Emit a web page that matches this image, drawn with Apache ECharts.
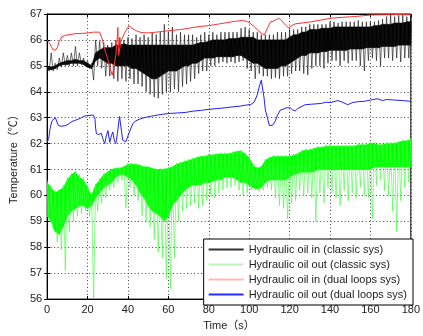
<!DOCTYPE html>
<html><head><meta charset="utf-8">
<script src="https://cdn.jsdelivr.net/npm/echarts@6/dist/echarts.min.js"></script>
<style>html,body{margin:0;padding:0;background:#fff}#c{width:423px;height:336px}</style>
</head><body><div id="c"></div>
<script>
// x tick labels and y tick labels
const xTicks = [0,20,40,60,80,100,120,140,160,180];
const yTicks = [56,57,58,59,60,61,62,63,64,65,66,67];

// 2-second windows for the noisy "classic sys" signals
const tWin = [0,2,4,6,8,10,12,14,16,18,
  20,22,24,26,28,30,32,34,36,38,
  40,42,44,46,48,50,52,54,56,58,
  60,62,64,66,68,70,72,74,76,78,
  80,82,84,86,88,90,92,94,96,98,
  100,102,104,106,108,110,112,114,116,118,
  120,122,124,126,128,130,132,134,136,138,
  140,142,144,146,148,150,152,154,156,158,
  160,162,164,166,168,170,172,174,176,178,180];

// Hydraulic oil in (classic sys): dense core band and spike envelope
const classicInCoreLo = [64.85,64.85,64.9,65.0,65.05,65.05,65.1,65.1,65.1,65.05,
  64.95,64.9,65.2,65.3,65.2,65.1,65.1,65.0,65.0,65.0,
  65.0,64.9,64.9,64.8,64.7,64.6,64.5,64.5,64.6,64.7,
  64.8,64.8,64.8,64.9,65.0,65.0,65.1,65.1,65.2,65.3,
  65.3,65.3,65.35,65.35,65.35,65.35,65.35,65.4,65.4,65.3,
  65.2,65.1,65.1,65.0,64.9,64.9,64.9,64.9,65.0,65.0,
  65.1,65.2,65.3,65.4,65.4,65.5,65.5,65.5,65.55,65.55,
  65.6,65.6,65.6,65.6,65.6,65.65,65.65,65.65,65.65,65.7,
  65.7,65.7,65.7,65.75,65.75,65.75,65.75,65.8,65.8,65.8,65.8];
const classicInCoreHi = [64.95,64.95,65.0,65.1,65.15,65.2,65.2,65.25,65.2,65.2,
  65.1,65.0,65.5,65.6,65.7,65.7,65.7,65.8,65.8,65.85,
  65.8,65.8,65.8,65.8,65.8,65.8,65.8,65.8,65.8,65.8,
  65.8,65.8,65.8,65.8,65.8,65.8,65.8,65.85,65.9,65.9,
  65.95,66.0,66.0,66.0,66.0,66.05,66.05,66.05,66.1,66.1,
  66.1,66.1,66.0,66.0,66.0,66.0,66.0,66.0,66.0,66.0,
  66.1,66.2,66.2,66.3,66.3,66.4,66.4,66.4,66.45,66.45,
  66.45,66.5,66.5,66.5,66.5,66.5,66.5,66.5,66.5,66.5,
  66.5,66.55,66.55,66.6,66.6,66.6,66.65,66.65,66.65,66.7,66.7];
const classicInLo = [64.8,64.8,64.85,64.95,65.0,65.0,65.0,65.0,65.05,65.0,
  64.9,64.45,65.0,64.9,64.6,64.6,64.5,64.4,64.5,64.4,
  64.5,64.3,64.3,64.2,64.0,63.9,63.8,63.75,63.9,64.0,
  64.0,64.1,64.0,64.2,64.3,64.4,64.5,64.7,64.8,64.8,
  65.0,65.0,65.1,65.15,65.1,65.15,65.1,65.15,65.2,64.9,
  64.8,64.5,64.7,64.6,64.6,64.5,64.55,64.5,64.6,64.6,
  64.7,64.8,64.8,64.7,64.65,64.9,65.0,65.0,64.9,65.1,
  65.2,65.2,65.0,65.2,65.1,65.2,65.2,65.0,64.8,65.2,
  65.3,65.2,65.0,65.3,65.3,65.2,65.3,65.15,65.3,65.3,65.4];
const classicInHi = [65.0,65.5,65.1,65.3,65.5,65.4,65.5,65.75,65.5,65.3,
  65.2,65.1,66.0,65.95,65.9,65.8,65.9,66.0,66.1,66.0,
  66.1,66.05,66.2,66.1,66.2,66.1,66.3,66.2,66.3,66.6,
  66.3,66.5,66.2,66.3,66.2,66.2,66.2,66.1,66.2,66.3,
  66.2,66.3,66.2,66.3,66.3,66.3,66.3,66.3,66.45,66.5,
  66.4,66.3,66.3,66.2,66.2,66.2,66.2,66.3,66.3,66.3,
  66.4,66.4,66.4,66.5,66.5,66.6,66.6,66.6,66.6,66.6,
  66.7,66.7,66.65,66.7,66.7,66.7,66.7,66.75,66.7,66.7,
  66.7,66.7,66.75,66.8,66.9,67.0,66.9,66.95,67.0,66.9,67.0];

// Hydraulic oil out (classic sys)
const classicOutCoreLo = [59.2,59.0,58.6,58.5,58.8,59.2,59.4,59.5,59.6,59.6,
  59.5,59.6,59.9,60.1,60.3,60.4,60.5,60.7,60.8,60.8,
  60.7,60.6,60.4,60.1,59.9,59.6,59.4,59.3,59.2,59.0,
  59.2,59.6,59.8,60.0,60.2,60.3,60.4,60.4,60.4,60.5,
  60.5,60.55,60.6,60.6,60.7,60.7,60.7,60.6,60.5,60.5,
  60.4,60.3,60.25,60.3,60.5,60.6,60.6,60.6,60.6,60.6,
  60.7,60.8,60.85,60.9,60.9,60.9,60.9,61.0,61.0,61.0,
  61.0,61.0,61.0,61.0,61.0,61.0,61.0,61.0,61.0,61.0,
  61.0,61.1,61.1,61.1,61.1,61.1,61.1,61.1,61.1,61.1,61.1];
const classicOutCoreHi = [60.5,60.3,60.1,60.2,60.3,60.6,60.8,60.9,60.7,60.6,
  60.3,60.0,60.4,60.6,60.8,60.9,61.0,61.05,61.05,61.1,
  61.2,61.2,61.2,61.15,61.1,61.1,61.05,61.0,61.0,61.0,
  61.05,61.1,61.2,61.25,61.3,61.35,61.4,61.45,61.5,61.5,
  61.55,61.55,61.6,61.6,61.6,61.6,61.65,61.7,61.7,61.6,
  61.45,61.15,61.05,61.1,61.35,61.45,61.5,61.5,61.5,61.5,
  61.5,61.55,61.6,61.7,61.75,61.75,61.8,61.85,61.85,61.9,
  61.9,61.9,61.9,61.9,61.9,61.9,61.9,61.95,61.95,61.95,
  62.0,62.0,61.95,61.95,62.0,62.0,62.0,62.05,62.1,62.1,62.15];
const classicOutLo = [59.0,58.7,58.2,57.9,57.1,58.6,59.0,59.2,59.3,59.4,
  59.2,56.0,59.4,59.7,59.9,60.2,60.3,60.5,60.6,59.5,
  60.3,60.0,59.8,59.2,59.0,58.8,58.3,57.8,57.6,56.8,
  56.4,57.6,59.0,59.4,59.5,59.6,59.7,59.5,59.6,59.8,
  60.0,59.9,60.1,60.2,60.3,60.3,60.4,60.2,60.0,60.1,
  60.2,60.2,60.15,60.2,60.3,60.2,59.9,59.6,59.5,59.1,
  59.7,59.8,60.2,60.0,60.1,59.9,59.0,60.1,59.7,60.3,
  60.1,59.9,59.6,60.2,59.8,60.1,59.9,60.3,60.0,59.9,
  59.1,60.4,60.6,60.2,60.0,59.4,58.6,59.8,60.3,60.5,60.4];
const classicOutHi = [60.6,60.4,60.2,60.2,60.4,60.7,60.85,60.95,60.8,60.7,
  60.4,60.1,60.45,60.65,60.85,60.95,61.0,61.05,61.1,61.15,
  61.25,61.25,61.2,61.2,61.15,61.1,61.05,61.0,61.05,61.05,
  61.1,61.15,61.25,61.3,61.35,61.4,61.45,61.5,61.5,61.55,
  61.6,61.6,61.6,61.65,61.65,61.65,61.7,61.7,61.75,61.65,
  61.5,61.2,61.1,61.15,61.4,61.5,61.55,61.55,61.55,61.55,
  61.55,61.6,61.65,61.75,61.8,61.8,61.85,61.9,61.9,61.95,
  61.95,61.95,61.95,61.95,61.95,61.95,61.95,62.0,62.0,62.0,
  62.05,62.05,62.0,62.0,62.05,62.05,62.05,62.1,62.15,62.15,62.2];

// Hydraulic oil in (dual loops sys)
const dualInT = [0,1,2,3,4,5,6,7.3,9,11,13.7,17,20.3,23,26,27,27.6,29,30,31.2,32.2,33,34.1,34.6,35,35.4,36,36.6,37.5,38.5,40.5,42,44.7,47,50,54,59.4,66,70,75.6,80,85.4,90,93,96.7,98.5,100,102,104,106,107.5,109,110.6,112,114.6,116,117,118.5,119.5,121,122.8,127,130.9,135,140.6,146,152,156,160,165,170,175,180];
const dualInV = [66.0,65.9,65.75,65.62,65.6,65.7,65.95,66.12,66.18,66.2,66.24,66.25,66.27,66.3,66.3,66.1,65.9,65.5,65.27,64.9,64.64,64.9,65.5,66.0,66.48,65.4,65.7,65.96,65.9,66.3,66.55,66.45,66.33,66.28,66.27,66.3,66.35,66.4,66.45,66.52,66.55,66.62,66.68,66.72,66.75,66.72,66.67,66.55,66.4,66.25,66.2,66.45,66.7,66.72,66.84,66.75,66.65,66.55,66.46,66.55,66.62,66.66,66.7,66.76,66.84,66.87,66.9,66.93,66.96,66.97,66.97,66.98,66.97];

// Hydraulic oil out (dual loops sys)
const dualOutT = [0,0.8,1.5,2.4,3,4.1,5,5.7,7,8.9,10.5,12.2,14,15.4,17,18.7,20,22.8,23.6,24,24.4,25.5,26.8,27.5,28.5,29.3,30.1,31,31.8,32.5,33.3,34,34.8,35.8,36.6,37.4,39,40,41.5,42.5,43.9,46,48,51,54.5,57,60.2,64,68.3,72,76,79.7,84,88,91,95,98,100.8,102.5,104,105,106,106.6,107.3,108,109,110,110.6,111.5,113,114,115.5,117,118.5,120.3,121.5,122.8,124,127.7,131,135.8,138,140,142,143.9,146,148.8,151,154,156.9,160,163.4,166,168,172,176,180];
const dualOutV = [62.05,62.2,62.6,62.88,62.95,63.0,62.8,62.69,62.67,62.69,62.75,62.85,62.9,62.94,63.0,63.07,63.08,63.1,63.0,62.6,62.38,62.35,62.4,62.2,62.0,62.3,62.5,62.05,62.3,62.45,62.1,62.0,62.4,63.05,62.6,62.13,62.07,62.3,62.6,62.78,62.88,62.95,63.0,63.05,63.1,63.13,63.16,63.18,63.2,63.25,63.28,63.32,63.35,63.38,63.41,63.44,63.48,63.51,63.6,63.89,64.2,64.45,64.4,63.8,63.3,63.0,62.7,62.65,62.7,62.88,63.1,63.3,63.33,63.38,63.38,63.3,63.26,63.35,63.5,63.52,63.55,63.6,63.58,63.62,63.66,63.6,63.5,63.58,63.62,63.63,63.68,63.73,63.66,63.7,63.68,63.66,63.63];

const names = ['Hydraulic oil in (classic sys)','Hydraulic oil out (classic sys)','Hydraulic oil in (dual loops sys)','Hydraulic oil out (dual loops sys)'];

function zigzag(t, hi, lo){ const d=[]; for(let i=0;i<t.length;i++){ d.push([t[i],hi[i]]); d.push([t[i]+1,lo[i]]);} return d; }
function pairs(t, v){ return t.map((x,i)=>[x,v[i]]); }
// core band drawn as polygons between consecutive windows, positioned through api.coord
function bandSeries(id, t, lo, hi, color){
  const data = [];
  for (let i=0;i<t.length-1;i++) data.push([t[i], lo[i], hi[i], t[i+1], lo[i+1], hi[i+1]]);
  return {
    name:id, type:'custom', data:data, silent:true, clip:true,
    encode:{x:[0,3], y:[1,2]},
    renderItem:function(params, api){
      const a = api.coord([api.value(0), api.value(1)]);
      const b = api.coord([api.value(0), api.value(2)]);
      const c = api.coord([api.value(3), api.value(5)]);
      const d = api.coord([api.value(3), api.value(4)]);
      return {type:'polygon', shape:{points:[a,b,c,d]}, style:{fill:color, stroke:color, lineWidth:0.6}};
    }
  };
}

const chart = echarts.init(document.getElementById('c'), null, {renderer:'canvas'});
const font = "'Liberation Sans', Arial, 'Noto Sans CJK SC', sans-serif";
const axisBase = {
  axisLine:{show:true, onZero:false, lineStyle:{color:'#000',width:1}},
  axisTick:{show:true, inside:true, length:3, lineStyle:{color:'#000'}},
  axisLabel:{color:'#222', fontSize:11, fontFamily:font},
  splitLine:{show:true, lineStyle:{color:'#444', type:[1,2.5], width:1}}
};
chart.setOption({
  animation:false,
  backgroundColor:'#fff',
  grid:{left:45, right:9, top:14, bottom:30, show:true, borderColor:'#000', borderWidth:1, backgroundColor:'transparent'},
  xAxis:[
    Object.assign({}, axisBase, {type:'value', min:xTicks[0], max:xTicks[xTicks.length-1], interval:xTicks[1]-xTicks[0],
      name:'Time（s）', nameLocation:'middle', nameGap:18, nameTextStyle:{fontSize:11, color:'#222', fontFamily:font},
      axisLabel:Object.assign({}, axisBase.axisLabel, {margin:5})}),
    {type:'value', position:'top', min:xTicks[0], max:xTicks[xTicks.length-1], interval:xTicks[1]-xTicks[0],
      axisLine:{show:true, lineStyle:{color:'#000'}}, axisTick:{show:true, inside:true, length:3, lineStyle:{color:'#000'}}, axisLabel:{show:false}, splitLine:{show:false}}
  ],
  yAxis:[
    Object.assign({}, axisBase, {type:'value', min:yTicks[0], max:yTicks[yTicks.length-1], interval:yTicks[1]-yTicks[0],
      name:'Temperature（℃）', nameLocation:'middle', nameGap:24, nameTextStyle:{fontSize:11, color:'#222', fontFamily:font},
      axisLabel:Object.assign({}, axisBase.axisLabel, {margin:5})}),
    {type:'value', position:'right', min:yTicks[0], max:yTicks[yTicks.length-1], interval:yTicks[1]-yTicks[0],
      axisLine:{show:true, lineStyle:{color:'#000'}}, axisTick:{show:true, inside:true, length:3, lineStyle:{color:'#000'}}, axisLabel:{show:false}, splitLine:{show:false}}
  ],
  legend:{
    orient:'vertical', right:10, bottom:31, itemWidth:35, itemHeight:2, itemGap:4, icon:'rect',
    backgroundColor:'#fff', borderColor:'#000', borderWidth:1, padding:[5,6,5,5],
    textStyle:{fontSize:11, color:'#222', fontFamily:font},
    data:[
      {name:names[0], itemStyle:{color:'#333'}},
      {name:names[1], itemStyle:{color:'#b8f7b8'}},
      {name:names[2], itemStyle:{color:'#ffb8b8'}},
      {name:names[3], itemStyle:{color:'#2a2aff'}}
    ]
  },
  series:[
    {name:names[0], type:'line', data:zigzag(tWin, classicInHi, classicInLo), symbol:'none', lineStyle:{color:'rgba(20,20,20,0.7)', width:0.9}, itemStyle:{color:'#000'}},
    bandSeries('bin', tWin, classicInCoreLo, classicInCoreHi, '#000'),
    {name:names[1], type:'line', data:zigzag(tWin, classicOutHi, classicOutLo), symbol:'none', lineStyle:{color:'rgba(60,255,60,0.7)', width:0.9}, itemStyle:{color:'#00ff00'}},
    bandSeries('gout', tWin, classicOutCoreLo, classicOutCoreHi, '#00ff00'),
    {name:names[2], type:'line', data:pairs(dualInT, dualInV), symbol:'none', lineStyle:{color:'#ff3030', width:1}, itemStyle:{color:'#ff3030'}},
    {name:names[3], type:'line', data:pairs(dualOutT, dualOutV), symbol:'none', lineStyle:{color:'#2020ff', width:1}, itemStyle:{color:'#2020ff'}}
  ]
});
</script></body></html>
